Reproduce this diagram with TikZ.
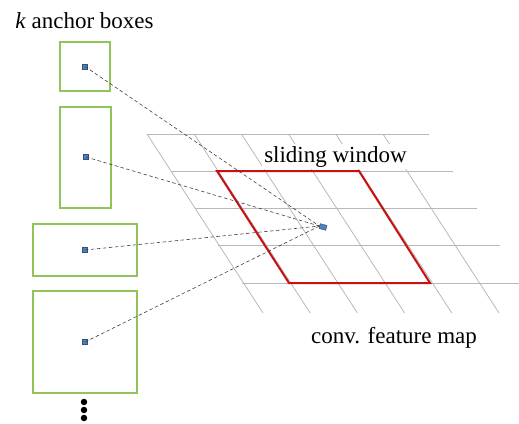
\documentclass[tikz,border=0pt]{standalone}
\usepackage{fontspec}
\setmainfont{Liberation Serif}
\definecolor{boxgreen}{RGB}{146,196,92}
\definecolor{winred}{RGB}{200,16,16}
\definecolor{dotblue}{RGB}{79,129,189}
\definecolor{dotedge}{RGB}{50,80,120}
\begin{document}
\begin{tikzpicture}[x=1pt,y=-1pt,
  gridline/.style={draw=black!28, line width=0.8pt},
  anchorbox/.style={draw=boxgreen, line width=1.5pt, inner sep=0pt, fill=white},
  centerdot/.style={draw=dotedge, fill=dotblue, line width=0.4pt, minimum size=5pt, inner sep=0pt},
  proj/.style={draw=black!75, line width=0.6pt, dash pattern=on 3.5pt off 2.5pt},
  lbl/.style={font=\fontsize{23}{26}\selectfont, inner sep=0pt, anchor=base},
  window/.style={draw=winred, line width=2pt, line join=miter},
  vdot/.style={circle, fill=black, minimum size=6.5pt, inner sep=0pt}]
\useasboundingbox (0,0) rectangle (519,423);

% feature map grid (sheared)
\foreach \i in {0,...,4}
  \draw[gridline] ({147+23.75*\i},{134+37.25*\i}) -- ++(282,0);
\foreach \i in {0,...,5}
  \draw[gridline] ({147+47.2*\i},134) -- ++(116,179);

% sliding window
\draw[window] (217,171) -- (359,171) -- (430,283) -- (289,283) -- cycle;

% anchor boxes
\node[anchorbox, minimum width=50pt, minimum height=49pt] (b1) at (85,66.5) {};
\node[anchorbox, minimum width=51pt, minimum height=101pt] (b2) at (85.5,157.5) {};
\node[anchorbox, minimum width=104pt, minimum height=52pt] (b3) at (85,250) {};
\node[anchorbox, minimum width=104pt, minimum height=102pt] (b4) at (85,342) {};

\node[centerdot] (d1) at (b1.center) {};
\node[centerdot] (d2) at (86,157) {};
\node[centerdot] (d3) at (b3.center) {};
\node[centerdot] (d4) at (b4.center) {};

% window centre
\node[draw=dotedge, fill=dotblue, line width=0.4pt, minimum width=7pt, minimum height=5pt,
      inner sep=0pt, rotate=-15] (c) at (323,227) {};

\foreach \d in {d1,d2,d3,d4}
  \draw[proj] (\d.center) -- (c.west);

% more boxes follow
\node[vdot] (v1) at (84,402) {};
\node[vdot] (v2) at (84,410) {};
\node[vdot] (v3) at (84,418) {};

% labels
\node[lbl] (tk) at (84.5,28) {\textit{k} anchor boxes};
\node[lbl, fill=white, inner sep=2pt] (tw) at (335.5,162) {sliding window};
\node[lbl] (tf) at (394,343) {conv. feature map};
\end{tikzpicture}
\end{document}
